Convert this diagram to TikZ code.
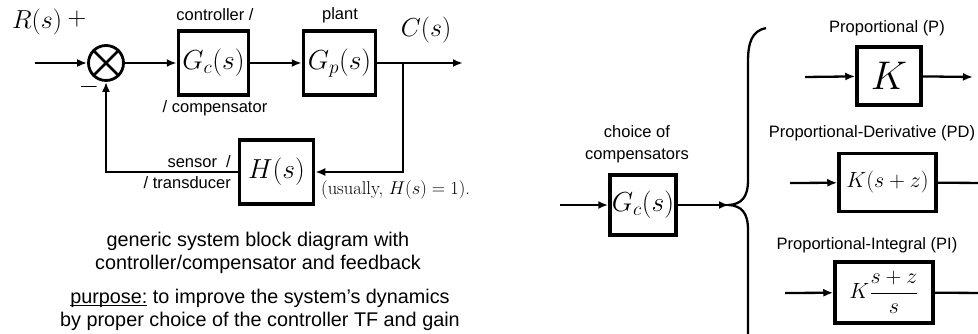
\RequirePackage{fix-cm}
\documentclass[tikz,border=0pt]{standalone}
\usepackage{fontspec}
\setsansfont{Liberation Sans}
\usetikzlibrary{arrows.meta}
\newcommand\myul[1]{\setbox0\hbox{#1}\rlap{\rule[-2.6pt]{\wd0}{1pt}}\box0\relax}
\begin{document}
\begin{tikzpicture}[x=1pt,y=-1pt,
  blk/.style={draw, line width=3.5pt, inner sep=0pt, minimum height=64pt, font=\fontsize{27.5}{32}\selectfont},
  conn/.style={line width=2.3pt, -{Latex[length=10pt,width=8pt]}},
  plainln/.style={line width=2.3pt},
  lbl/.style={font=\sffamily\fontsize{16.5}{22}\selectfont, inner sep=0pt},
  captxt/.style={font=\sffamily\fontsize{19.8}{22.5}\selectfont, inner sep=0pt, align=center},
  mth/.style={font=\fontsize{26}{30}\selectfont, inner sep=0pt}]
\clip (0,0) rectangle (978,334);
\fill[white] (0,0) rectangle (978,334);

% ---------- left: block diagram ----------
\node[draw, circle, line width=2.8pt, minimum size=35pt, inner sep=0pt] (sum) at (106,63) {};
\draw[line width=2.5pt] (sum.north east) -- (sum.south west) (sum.north west) -- (sum.south east);
\node[blk, minimum width=70pt] (gc) at (213.5,63) {$G_c(s)$};
\node[blk, minimum width=72pt] (gp) at (339.5,63) {$G_p(s)$};
\node[blk, minimum width=74pt] (h) at (276.5,172) {$H(s)$};
\coordinate (in) at (35,63);
\coordinate (out) at (463,63);
\coordinate (br) at (403,63);
\draw[conn] (in) -- (sum);
\draw[conn] (sum) -- (gc);
\draw[conn] (gc) -- (gp);
\draw[conn] (gp.east) -- (out);
\draw[conn] (br) |- (h.east);
\draw[conn] (h.west) -| (sum.south);

\node[mth] (R) at (37,22) {$R(s)$};
\node[mth] (plus) at (77,19) {$+$};
\node[mth] (minus) at (89,87) {$-$};
\node[mth] (C) at (426,30) {$C(s)$};
\node[lbl] (ctl) at (215,15) {controller /};
\node[lbl] (pl) at (340,15) {plant};
\node[lbl] (cmp) at (215,108) {/ compensator};
\node[lbl, anchor=east] (sen) at (231,162) {sensor\ \ /};
\node[lbl, anchor=east] (tr) at (231,183) {/ transducer};
\node[font=\fontsize{18.5}{20}\selectfont, anchor=west, inner sep=0pt] (us) at (321,190) {(usually, $H(s)=1$).};

\node[captxt] (c1) at (258,253) {generic system block diagram with\\controller/compensator and feedback};
\node[captxt] (c2) at (260,310) {\myul{purpose:} to improve the system's dynamics\\by proper choice of the controller TF and gain};

% ---------- right: choice of compensators ----------
\node[lbl, align=center] (choice) at (637,144) {choice of\\compensators};
\node[blk, minimum width=66pt, minimum height=60pt] (gc2) at (643,205) {$G_c(s)$};
\coordinate (in2) at (560,205);
\coordinate (tip) at (729,205);
\draw[conn] (in2) -- (gc2);
\draw[conn] (gc2) -- (tip);
\draw[plainln] (766,28) .. controls (752,31) and (748,42) .. (748,62) -- (748,180)
  .. controls (748,198) and (741,204) .. (tip)
  .. controls (741,206) and (748,212) .. (748,230) -- (748,345);

\node[lbl] (lp) at (887,28) {Proportional (P)};
\node[blk, minimum width=64pt, minimum height=58pt, font=\fontsize{40}{44}\selectfont] (kp) at (889,76) {$K$};
\coordinate (pin) at (805,77);
\coordinate (pout) at (973,77);
\draw[conn] (pin) -- (kp);
\draw[conn] (kp) -- (pout);

\node[lbl] (lpd) at (872,133) {Proportional-Derivative (PD)};
\node[blk, minimum width=97pt, minimum height=58pt, font=\fontsize{22}{26}\selectfont] (kpd) at (887.5,182.5) {$K(s+z)$};
\coordinate (pdin) at (790,183);
\coordinate (pdout) at (990,183);
\draw[conn] (pdin) -- (kpd);
\draw[conn] (kpd) -- (pdout);

\node[lbl] (lpi) at (867,245) {Proportional-Integral (PI)};
\node[blk, minimum width=98pt, minimum height=61pt, font=\fontsize{22}{26}\selectfont] (kpi) at (884,292.5) {$K\displaystyle\frac{s+z}{s}$};
\coordinate (piin) at (785,293);
\coordinate (piout) at (990,293);
\draw[conn] (piin) -- (kpi);
\draw[conn] (kpi) -- (piout);
\end{tikzpicture}
\end{document}
